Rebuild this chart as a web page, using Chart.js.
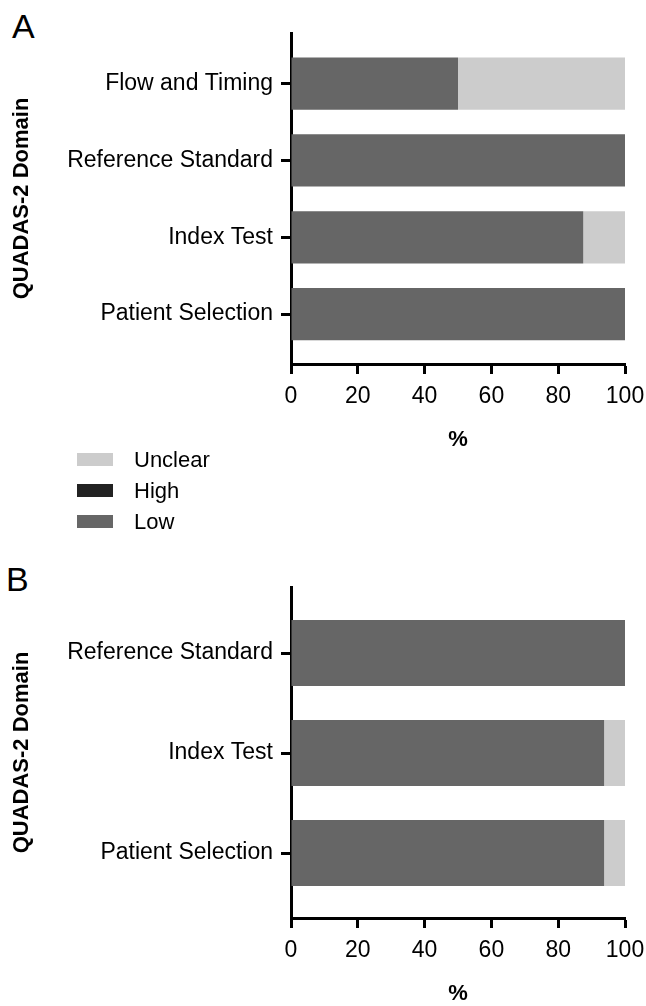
<!DOCTYPE html>
<html>
<head>
<meta charset="utf-8">
<script src="https://cdn.jsdelivr.net/npm/chart.js@4"></script>
<style>
  html, body { margin: 0; padding: 0; background: #fff; overflow: hidden; }
  body { width: 646px; height: 1006px; position: relative; font-family: 'Liberation Sans', Arial, sans-serif; }
  .panel { position: absolute; left: 0; width: 646px; height: 460px; }
  .letter { position: absolute; font-size: 34px; color: #000; line-height: 1; }
  #legend { position: absolute; left: 77px; top: 444px; }
  .item { height: 31px; display: flex; align-items: center; font-size: 22px; }
  .box { width: 36px; height: 13px; margin-right: 21px; }
</style>
</head>
<body>
<div class="letter" style="left:12px;top:9px">A</div>
<div class="panel" style="top:0"><canvas id="chartA"></canvas></div>
<div id="legend"></div>
<div class="letter" style="left:6px;top:562px">B</div>
<div class="panel" style="top:554px"><canvas id="chartB"></canvas></div>

<script>
// panel A
const domainsA = ['Flow and Timing', 'Reference Standard', 'Index Test', 'Patient Selection'];
const lowA = [50, 100, 87.5, 100];
const highA = [0, 0, 0, 0];
const unclearA = [50, 0, 12.5, 0];

// panel B
const domainsB = ['Reference Standard', 'Index Test', 'Patient Selection'];
const lowB = [100, 93.75, 93.75];
const highB = [0, 0, 0];
const unclearB = [0, 6.25, 6.25];

const xTicks = [0, 20, 40, 60, 80, 100];
const legendOrder = ['Unclear', 'High', 'Low'];
const colors = { Low: '#666666', High: '#222222', Unclear: '#cccccc' };

const FONT = "'Liberation Sans', Arial, sans-serif";

function points(values) {
    return values.map((v, i) => ({ x: v, y: i }));
}

function makeChart(id, domains, low, high, unclear, barPct) {
    const ctx = document.getElementById(id).getContext('2d');
    return new Chart(ctx, {
        type: 'bar',
        data: {
            datasets: [
                { label: 'Low', data: points(low), backgroundColor: colors.Low },
                { label: 'High', data: points(high), backgroundColor: colors.High },
                { label: 'Unclear', data: points(unclear), backgroundColor: colors.Unclear }
            ]
        },
        options: {
            indexAxis: 'y',
            responsive: false,
            animation: false,
            maintainAspectRatio: false,
            layout: { padding: { top: 33, left: 0, right: 0, bottom: 0 } },
            datasets: { bar: { barPercentage: barPct, categoryPercentage: 1 } },
            plugins: { legend: { display: false }, tooltip: { enabled: false } },
            scales: {
                x: {
                    type: 'linear',
                    stacked: true,
                    min: 0,
                    max: 100,
                    afterBuildTicks: s => { s.ticks = xTicks.map(v => ({ value: v })); },
                    afterFit: s => { s.height = 96; s.paddingLeft = 0; s.paddingRight = 21; },
                    border: { display: true, color: '#000', width: 3 },
                    grid: { drawOnChartArea: false, drawTicks: true, tickLength: 10, tickWidth: 3, tickColor: '#000' },
                    ticks: { color: '#000', padding: 9, font: { family: FONT, size: 23 } },
                    title: {
                        display: true, text: '%', color: '#000',
                        padding: { top: 0, bottom: 7 },
                        font: { family: FONT, size: 22, weight: 'bold' }
                    }
                },
                y: {
                    type: 'linear',
                    stacked: true,
                    reverse: true,
                    offset: false,
                    min: -0.66,
                    max: domains.length - 1 + 0.65,
                    afterBuildTicks: s => { s.ticks = domains.map((d, i) => ({ value: i })); },
                    afterFit: s => { s.width = 291; },
                    border: { display: true, color: '#000', width: 3 },
                    grid: { offset: false, drawOnChartArea: false, drawTicks: true, tickLength: 10, tickWidth: 3, tickColor: '#000' },
                    ticks: {
                        color: '#000', padding: 8,
                        font: { family: FONT, size: 23 },
                        callback: v => domains[v]
                    },
                    title: {
                        display: true, text: 'QUADAS-2 Domain', color: '#000',
                        padding: { top: 9, bottom: 0 },
                        font: { family: FONT, size: 22, weight: 'bold' }
                    }
                }
            }
        }
    });
}

function sizeCanvas(id) {
    const c = document.getElementById(id);
    c.width = 646;
    c.height = 460;
    c.style.width = '646px';
    c.style.height = '460px';
}

sizeCanvas('chartA');
sizeCanvas('chartB');
makeChart('chartA', domainsA, lowA, highA, unclearA, 0.68);
makeChart('chartB', domainsB, lowB, highB, unclearB, 0.66);

// legend built from the same series names and colours
const legend = document.getElementById('legend');
legendOrder.forEach(name => {
    const row = document.createElement('div');
    row.className = 'item';
    const box = document.createElement('span');
    box.className = 'box';
    box.style.background = colors[name];
    row.appendChild(box);
    row.appendChild(document.createTextNode(name));
    legend.appendChild(row);
});
</script>
</body>
</html>
